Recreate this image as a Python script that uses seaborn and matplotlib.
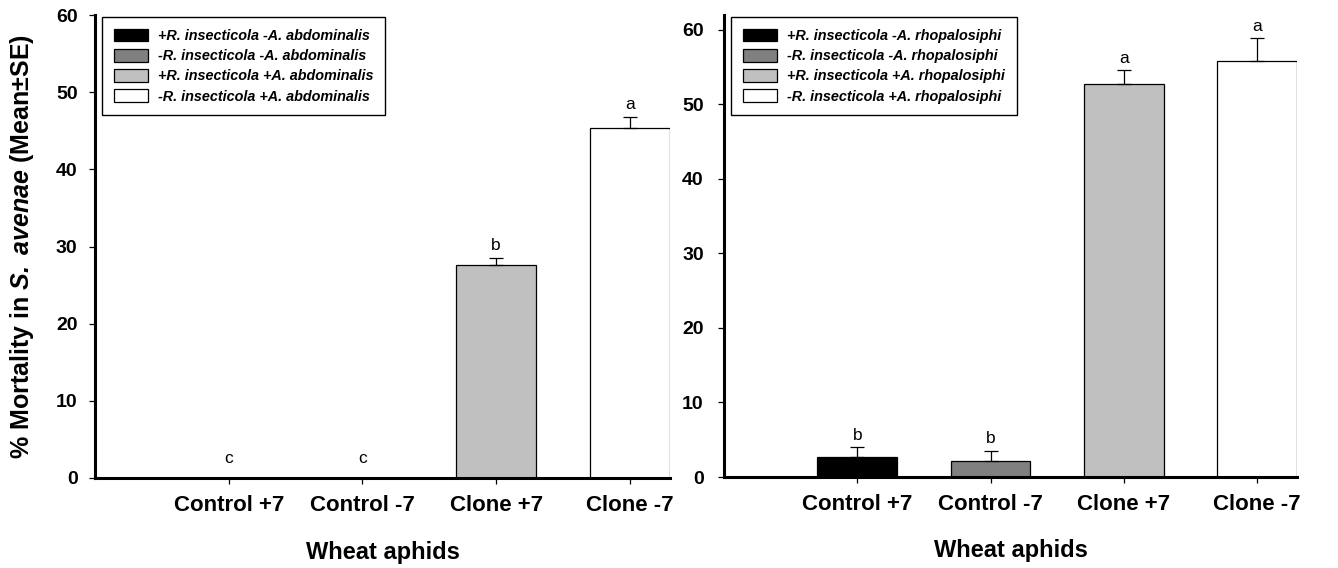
import numpy as np
import pandas as pd
import matplotlib
matplotlib.use("Agg")
import matplotlib.pyplot as plt
import seaborn as sns
from matplotlib.patches import Patch
from matplotlib.font_manager import FontProperties

# ---------------- data ----------------
categories = ["Control +7", "Control -7", "Clone +7", "Clone -7"]

left_means = [0.0, 0.0, 27.6, 45.3]
left_se = [0.0, 0.0, 0.9, 1.5]
left_letters = ["c", "c", "b", "a"]
left_legend = ["+R. insecticola -A. abdominalis",
               "-R. insecticola -A. abdominalis",
               "+R. insecticola +A. abdominalis",
               "-R. insecticola +A. abdominalis"]

right_means = [2.7, 2.1, 52.7, 55.8]
right_se = [1.3, 1.4, 1.9, 3.1]
right_letters = ["b", "b", "a", "a"]
right_legend = ["+R. insecticola -A. rhopalosiphi",
                "-R. insecticola -A. rhopalosiphi",
                "+R. insecticola +A. rhopalosiphi",
                "-R. insecticola +A. rhopalosiphi"]

bar_colors = ["#000000", "#808080", "#c0c0c0", "#ffffff"]
y_ticks = [0, 10, 20, 30, 40, 50, 60]
x_label = "Wheat aphids"
y_label = r"% Mortality in $\mathbfit{S.\ avenae}$ (Mean±SE)"

# ---------------- style ----------------
sns.set_style("white")
plt.rcParams["font.family"] = ["Liberation Sans", "DejaVu Sans"]
plt.rcParams["text.color"] = "black"
plt.rcParams["axes.labelcolor"] = "black"
plt.rcParams["xtick.color"] = "black"
plt.rcParams["ytick.color"] = "black"
plt.rcParams["legend.labelcolor"] = "black"
plt.rcParams["mathtext.fontset"] = "custom"
plt.rcParams["mathtext.rm"] = "Liberation Sans:bold"
plt.rcParams["mathtext.bfit"] = "Liberation Sans:italic:bold"
plt.rcParams["mathtext.it"] = "Liberation Sans:italic:bold"
plt.rcParams["mathtext.bf"] = "Liberation Sans:bold"

W, H = 1338, 568
fig = plt.figure(figsize=(W / 100, H / 100), dpi=100)
ax1 = fig.add_axes([95 / W, 1 - 478 / H, 575 / W, 463 / H])
ax2 = fig.add_axes([724 / W, 1 - 477 / H, 573 / W, 462 / H])

legend_font = FontProperties(family="Liberation Sans", weight="bold",
                             style="italic", size=10.4)


def panel(ax, means, se, letters, legend_labels, ytop, ypad):
    df = pd.DataFrame({"cat": categories, "val": means})
    sns.barplot(data=df, x="cat", y="val", hue="cat", order=categories,
                hue_order=categories, palette=bar_colors, saturation=1,
                width=0.6, edgecolor="black", linewidth=0.9,
                errorbar=None, legend=False, ax=ax)
    x = np.arange(len(categories))
    m = np.array(means)
    s = np.array(se)
    keep = s > 0
    ax.errorbar(x[keep], m[keep], yerr=[np.zeros(keep.sum()), s[keep]],
                fmt="none", ecolor="black", elinewidth=0.9,
                capsize=4.7, capthick=0.9)
    for xi, mi, si, lab in zip(x, m, s, letters):
        off = 1.0 if si > 0 else 2.0
        ax.text(xi, mi + si + off, lab, ha="center", va="baseline",
                fontsize=12.5, color="black")

    ax.set_xlim(-1, 3.3)
    ax.set_ylim(0, ytop)
    ax.set_yticks(y_ticks)
    ax.set_xticks(x)
    ax.set_xticklabels(categories, fontsize=16, fontweight="bold",
                       color="black")
    for t in ax.get_yticklabels():
        t.set_fontsize(14)
        t.set_fontweight("bold")
        t.set_color("black")

    for side in ["top", "right"]:
        ax.spines[side].set_visible(False)
    for side in ["left", "bottom"]:
        ax.spines[side].set_linewidth(2.2)
        ax.spines[side].set_color("black")
    ax.tick_params(axis="x", direction="out", length=4.5, width=0.9,
                   pad=8, colors="black", bottom=True)
    ax.tick_params(axis="y", direction="out", length=4.5, width=0.9,
                   pad=ypad, colors="black", left=True)

    ax.set_xlabel(x_label, fontsize=17, fontweight="bold", color="black")
    ax.xaxis.set_label_coords(0.5, -0.16)
    ax.xaxis.label.set_va("center")
    ax.set_ylabel("")

    handles = [Patch(facecolor=c, edgecolor="black", linewidth=0.9)
               for c in bar_colors]
    leg = ax.legend(handles, legend_labels, loc="upper left",
                    bbox_to_anchor=(7 / 575, 1 - 2 / 463),
                    borderaxespad=0, frameon=True, fancybox=False,
                    framealpha=1, edgecolor="black", prop=legend_font,
                    handlelength=2.4, handleheight=1.0, labelspacing=0.4,
                    handletextpad=0.7, borderpad=0.8)
    leg.get_frame().set_linewidth(1.0)
    for t in leg.get_texts():
        t.set_color("black")


panel(ax1, left_means, left_se, left_letters, left_legend, 60, 8)
panel(ax2, right_means, right_se, right_letters, right_legend, 62, 10)

ax1.set_ylabel(y_label, fontsize=18, fontweight="bold", color="black")
ax1.yaxis.set_label_coords(-0.127, 0.5)
ax1.yaxis.label.set_va("center")

fig.savefig("out.png", dpi=100)
